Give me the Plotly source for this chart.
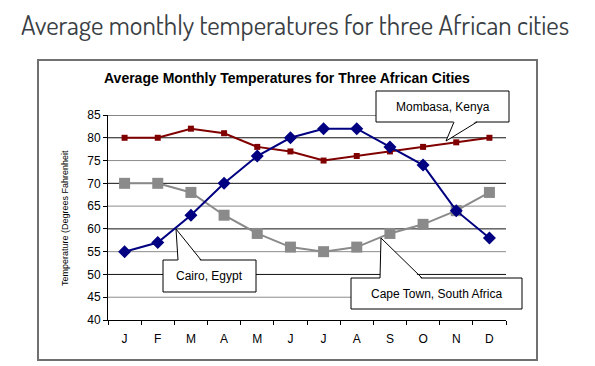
import plotly.graph_objects as go

months = ["J", "F", "M", "A", "M", "J", "J", "A", "S", "O", "N", "D"]
cairo = [55, 57, 63, 70, 76, 80, 82, 82, 78, 74, 64, 58]
mombasa = [80, 80, 82, 81, 78, 77, 75, 76, 77, 78, 79, 80]
cape_town = [70, 70, 68, 63, 59, 56, 55, 56, 59, 61, 64, 68]
y_ticks = [40, 45, 50, 55, 60, 65, 70, 75, 80, 85]
dark_grid = [50, 60, 70, 80, 85]

OFF = 8  # page body margin
W, H = 595 - OFF, 366 - OFF
L, R, T, B = 108, 506, 115, 320  # plot area in screen pixels

def px(x):
    return (x - L) / (R - L)

def py(y):
    return (B - y) / (B - T)

xs = list(range(len(months)))

fig = go.Figure()
fig.add_trace(go.Scatter(x=xs, y=mombasa, mode="lines+markers", name="Mombasa, Kenya",
                         line=dict(color="#800000", width=2),
                         marker=dict(symbol="square", size=6, color="#800000")))
fig.add_trace(go.Scatter(x=xs, y=cape_town, mode="lines+markers", name="Cape Town, South Africa",
                         line=dict(color="#8a8a8a", width=2),
                         marker=dict(symbol="square", size=11, color="#8a8a8a")))
fig.add_trace(go.Scatter(x=xs, y=cairo, mode="lines+markers", name="Cairo, Egypt",
                         line=dict(color="#000080", width=2),
                         marker=dict(symbol="diamond", size=10, color="#000080")))

shapes = []
for v in y_ticks[1:]:
    shapes.append(dict(type="line", xref="paper", yref="y", x0=0, x1=1, y0=v, y1=v,
                       line=dict(color="#111111" if v in dark_grid else "#8c8c8c", width=1),
                       layer="below"))
shapes.append(dict(type="rect", xref="paper", yref="paper",
                   x0=px(38), x1=px(537), y0=py(360), y1=py(60),
                   line=dict(color="#707070", width=2), layer="below"))

annotations = []

def callout(box, base, tip, text):
    x0, y0, x1, y1 = box
    shapes.append(dict(type="rect", xref="paper", yref="paper",
                       x0=px(x0), x1=px(x1), y0=py(y1), y1=py(y0),
                       line=dict(color="black", width=1), fillcolor="white", layer="above"))
    (bx0, by), (bx1, _) = base
    tx, ty = tip
    yin = by + 1.5 if ty < by else by - 1.5
    path = f"M {px(bx0)} {py(yin)} L {px(tx)} {py(ty)} L {px(bx1)} {py(yin)} Z"
    shapes.append(dict(type="path", xref="paper", yref="paper", path=path,
                       fillcolor="white", line=dict(width=0), layer="above"))
    for bx in (bx0, bx1):
        shapes.append(dict(type="line", xref="paper", yref="paper",
                           x0=px(bx), y0=py(by), x1=px(tx), y1=py(ty),
                           line=dict(color="black", width=1), layer="above"))
    annotations.append(dict(xref="paper", yref="paper", x=px((x0 + x1) / 2), y=py((y0 + y1) / 2),
                            xanchor="center", yanchor="middle",
                            text=text, showarrow=False,
                            font=dict(family="Arial, Liberation Sans", size=12, color="black")))

callout((376, 91, 509, 122), ((454, 122), (477, 122)), (446, 141), "Mombasa, Kenya")
callout((163, 260, 256, 292), ((178, 260), (201, 260)), (176, 229), "Cairo, Egypt")
callout((351, 278, 522, 309), ((380, 278), (422, 278)), (381, 238), "Cape Town, South Africa")

annotations.append(dict(xref="paper", yref="paper", x=px(287), y=py(78), xanchor="center", yanchor="middle",
                        text="<b>Average Monthly Temperatures for Three African Cities</b>",
                        showarrow=False, font=dict(family="Arial, Liberation Sans", size=14, color="black")))
annotations.append(dict(xref="paper", yref="paper", x=px(295), y=py(24), xanchor="center", yanchor="middle",
                        text="Average monthly temperatures for three African cities",
                        showarrow=False,
                        font=dict(family="Dosis, Liberation Sans Narrow, Open Sans", size=27, color="#3a3f44")))
annotations.append(dict(xref="paper", yref="paper", x=px(65), y=py(218), xanchor="center", yanchor="middle",
                        textangle=-90, text="Temperature (Degrees Fahrenheit", showarrow=False,
                        font=dict(family="Arial, Liberation Sans", size=9, color="black")))

fig.update_layout(
    width=W, height=H,
    margin=dict(l=L - OFF, r=W - (R - OFF), t=T - OFF, b=H - (B - OFF)),
    paper_bgcolor="white", plot_bgcolor="white",
    showlegend=False,
    shapes=shapes, annotations=annotations,
    font=dict(family="Arial, Liberation Sans", size=12, color="black"),
)
fig.update_xaxes(range=[-0.5, 11.5], tickmode="array", tickvals=xs, ticktext=months,
                 ticks="", showgrid=False, zeroline=False,
                 showline=True, linecolor="black", linewidth=1,
                 minor=dict(tickmode="linear", tick0=-0.5, dtick=1, ticks="outside", ticklen=4,
                            tickcolor="black", showgrid=False),
                 tickfont=dict(size=12), ticklabelstandoff=8)
fig.update_yaxes(range=[40, 85], tickmode="array", tickvals=y_ticks, ticks="outside", ticklen=4,
                 tickcolor="black", showgrid=False, zeroline=False,
                 showline=True, linecolor="black", linewidth=1,
                 tickfont=dict(size=12))

fig.write_html("out.html")
